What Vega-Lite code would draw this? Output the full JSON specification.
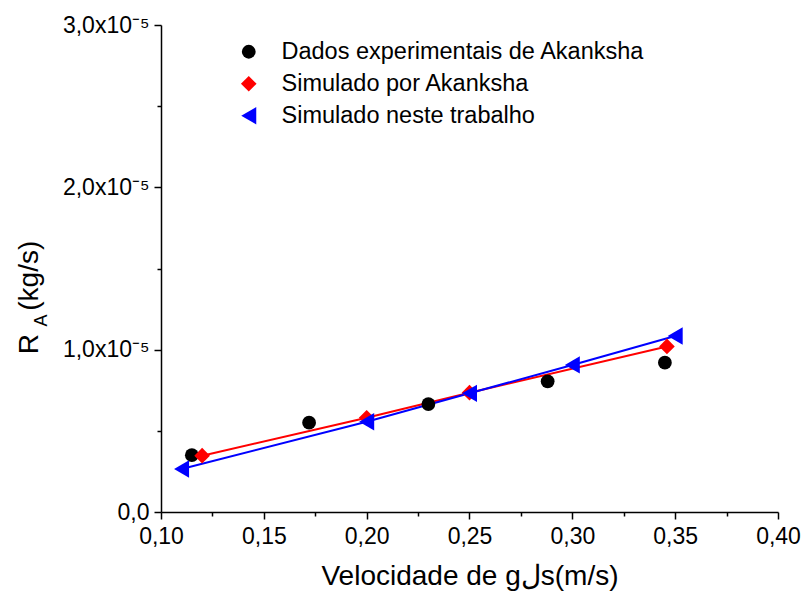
{
  "$schema": "https://vega.github.io/schema/vega-lite/v6.json",
  "width": 617,
  "height": 487,
  "autosize": {"type": "none"},
  "padding": {"left": 161, "top": 25, "right": 25, "bottom": 98},
  "background": "white",
  "config": {
    "view": {"stroke": null},
    "font": "Liberation Sans",
    "axis": {
      "grid": false,
      "domainColor": "black",
      "domainWidth": 1.5,
      "tickColor": "black",
      "tickWidth": 1.5,
      "labelColor": "black",
      "labelFont": "Liberation Sans",
      "labelFontSize": 23,
      "titleColor": "black",
      "titleFont": "Liberation Sans",
      "titleFontWeight": "normal",
      "titleFontSize": 28
    },
    "legend": {
      "title": null,
      "orient": "none",
      "legendX": 76,
      "legendY": 15,
      "padding": 0,
      "rowPadding": 7,
      "symbolSize": 400,
      "symbolStrokeWidth": 2,
      "labelOffset": 21,
      "labelFont": "Liberation Sans",
      "labelFontSize": 23.5,
      "labelColor": "black",
      "labelLimit": 500
    }
  },
  "data": {
    "values": [
      {"serie": "Dados experimentais de Akanksha", "v": 0.115, "ra": 3.5e-6},
      {"serie": "Dados experimentais de Akanksha", "v": 0.172, "ra": 5.5e-6},
      {"serie": "Dados experimentais de Akanksha", "v": 0.230, "ra": 6.65e-6},
      {"serie": "Dados experimentais de Akanksha", "v": 0.288, "ra": 8.05e-6},
      {"serie": "Dados experimentais de Akanksha", "v": 0.345, "ra": 9.2e-6},
      {"serie": "Simulado por Akanksha", "v": 0.12, "ra": 3.47e-6},
      {"serie": "Simulado por Akanksha", "v": 0.20, "ra": 5.8e-6},
      {"serie": "Simulado por Akanksha", "v": 0.25, "ra": 7.35e-6},
      {"serie": "Simulado por Akanksha", "v": 0.346, "ra": 1.02e-5},
      {"serie": "Simulado neste trabalho", "v": 0.11, "ra": 2.65e-6},
      {"serie": "Simulado neste trabalho", "v": 0.20, "ra": 5.56e-6},
      {"serie": "Simulado neste trabalho", "v": 0.25, "ra": 7.31e-6},
      {"serie": "Simulado neste trabalho", "v": 0.30, "ra": 9.06e-6},
      {"serie": "Simulado neste trabalho", "v": 0.35, "ra": 1.084e-5}
    ]
  },
  "layer": [
    {
      "transform": [{"filter": "datum.serie != 'Dados experimentais de Akanksha'"}],
      "mark": {"type": "line", "strokeWidth": 2, "clip": false},
      "encoding": {
        "x": {
          "field": "v",
          "type": "quantitative",
          "scale": {"domain": [0.1, 0.4], "nice": false, "zero": false},
          "axis": {
            "title": "Velocidade de gلs(m/s)",
            "values": [0.1, 0.125, 0.15, 0.175, 0.2, 0.225, 0.25, 0.275, 0.3, 0.325, 0.35, 0.375, 0.4],
            "labelExpr": "round(datum.value * 40) % 2 == 0 ? replace(format(datum.value, '.2f'), '.', ',') : ''",
            "tickSize": {"condition": {"test": "round(datum.value * 40) % 2 == 0", "value": 7}, "value": 4},
            "labelPadding": 6,
            "titlePadding": 14,
            "labelFlush": false
          }
        },
        "y": {
          "field": "ra",
          "type": "quantitative",
          "scale": {"domain": [0, 3e-5], "nice": false},
          "axis": {
            "title": "R\u00a0\u00a0\u00a0(kg/s)",
            "values": [0, 5e-6, 1e-5, 1.5e-5, 2e-5, 2.5e-5, 3e-5],
            "labelExpr": "datum.value == 0 ? '0,0' : (round(datum.value * 2e5) % 2 == 0 ? replace(format(datum.value * 1e5, '.1f'), '.', ',') + 'x10⁻⁵' : '')",
            "tickSize": {"condition": {"test": "round(datum.value * 2e5) % 2 == 0", "value": 7}, "value": 4},
            "labelPadding": 5,
            "labelFlush": false,
            "titleX": -118,
            "titleY": 272,
            "titleBaseline": "bottom"
          }
        },
        "stroke": {
          "field": "serie",
          "type": "nominal",
          "scale": {"domain": ["Simulado por Akanksha", "Simulado neste trabalho"], "range": ["#FF0000", "#0000FF"]},
          "legend": null
        },
        "order": {"field": "v", "type": "quantitative"}
      }
    },
    {
      "mark": {"type": "point", "filled": true, "opacity": 1, "clip": false},
      "encoding": {
        "x": {"field": "v", "type": "quantitative"},
        "y": {"field": "ra", "type": "quantitative"},
        "color": {
          "field": "serie",
          "type": "nominal",
          "scale": {
            "domain": ["Dados experimentais de Akanksha", "Simulado por Akanksha", "Simulado neste trabalho"],
            "range": ["#000000", "#FF0000", "#0000FF"]
          },
          "legend": {}
        },
        "shape": {
          "field": "serie",
          "type": "nominal",
          "scale": {
            "domain": ["Dados experimentais de Akanksha", "Simulado por Akanksha", "Simulado neste trabalho"],
            "range": ["circle", "diamond", "triangle-left"]
          },
          "legend": {}
        },
        "size": {
          "field": "serie",
          "type": "nominal",
          "scale": {
            "domain": ["Dados experimentais de Akanksha", "Simulado por Akanksha", "Simulado neste trabalho"],
            "range": [190, 300, 340]
          },
          "legend": null
        }
      }
    },
    {
      "data": {"values": [{}]},
      "mark": {"type": "text", "text": "A", "angle": 270, "align": "center", "baseline": "middle", "fontSize": 18, "font": "Liberation Sans", "color": "black", "clip": false},
      "encoding": {
        "x": {"datum": 0.0421, "type": "quantitative"},
        "y": {"datum": 1.18e-5, "type": "quantitative"}
      }
    }
  ]
}
